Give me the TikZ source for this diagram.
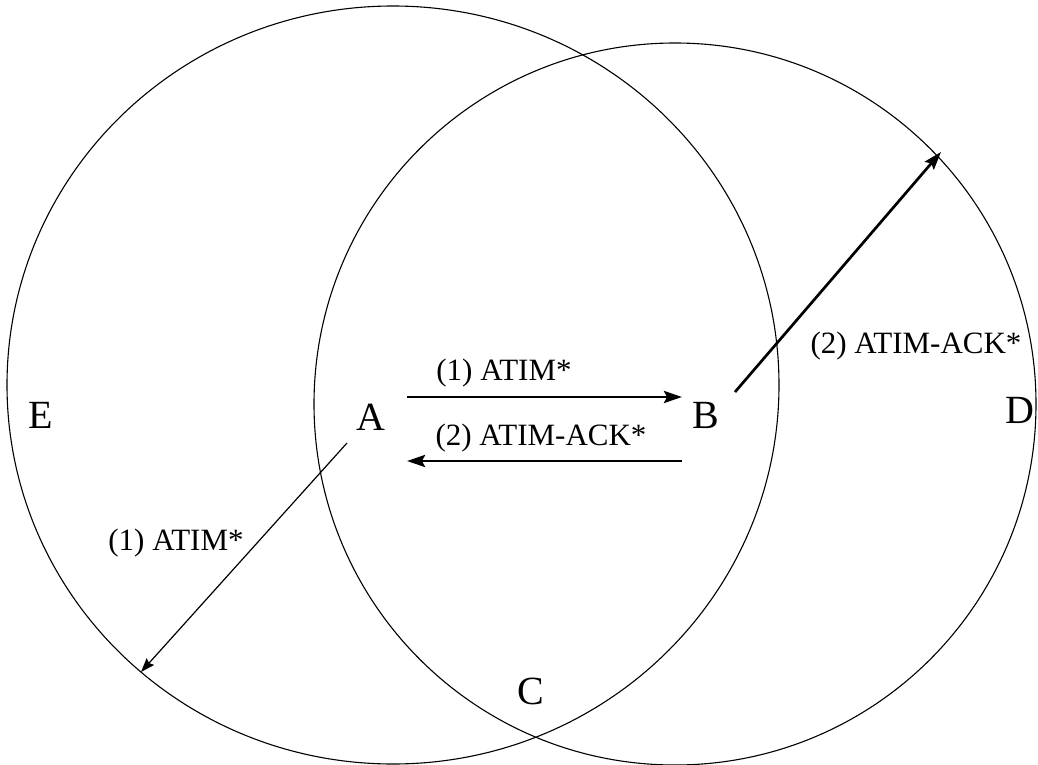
\documentclass[tikz,border=0pt]{standalone}
\usepackage{fontspec}
\setmainfont{Liberation Serif}
\usetikzlibrary{arrows.meta}

\begin{document}
\begin{tikzpicture}[
    x=1pt, y=-1pt,
    line join=round,
    line cap=round,
    coverage/.style={draw, line width=1.1pt},
    station/.style={inner sep=0pt, font=\fontsize{40}{44}\selectfont},
    msg/.style={inner sep=0pt, font=\fontsize{31}{35}\selectfont},
    signal/.style={-{Stealth[length=18pt, width=12pt, inset=3pt]}, line width=2.7pt, line cap=butt},
    weak/.style={-{Stealth[length=14pt, width=10pt, inset=2pt]}, line width=1.2pt, line cap=butt}
]
\useasboundingbox (0,0) rectangle (1038,765);

% =========================
% Transmission ranges
% =========================
\draw[coverage] (393,385) ellipse [x radius=386, y radius=379];
\draw[coverage] (675,404) circle [radius=361];

% =========================
% Stations
% =========================
\node[station] (E) at (41,415) {E};
\node[station] (A) at (371,417) {A};
\node[station] (B) at (706,415) {B};
\node[station] (D) at (1020,410) {D};
\node[station] (C) at (531,691) {C};

% =========================
% Arrow ends
% =========================
\coordinate (atxout) at (407,397);
\coordinate (atxin)  at (682,397);
\coordinate (ackout) at (682,461);
\coordinate (ackin)  at (407,461);
\coordinate (bout)   at (735,392);
\coordinate (dedge)  at (941,152);
\coordinate (aout)   at (347,443);
\coordinate (eedge)  at (141,672);

% =========================
% Messages
% =========================
\draw[signal] (atxout) -- (atxin);
\draw[signal] (ackout) -- (ackin);
\draw[signal] (bout) -- (dedge);
\draw[weak] (aout) -- (eedge);

\node[msg] (atim1)  at (504,373) {(1) ATIM*};
\node[msg] (ack1)   at (541,438) {(2) ATIM-ACK*};
\node[msg] (ack2)   at (916,346) {(2) ATIM-ACK*};
\node[msg] (atim2)  at (176,543) {(1) ATIM*};

\end{tikzpicture}
\end{document}
